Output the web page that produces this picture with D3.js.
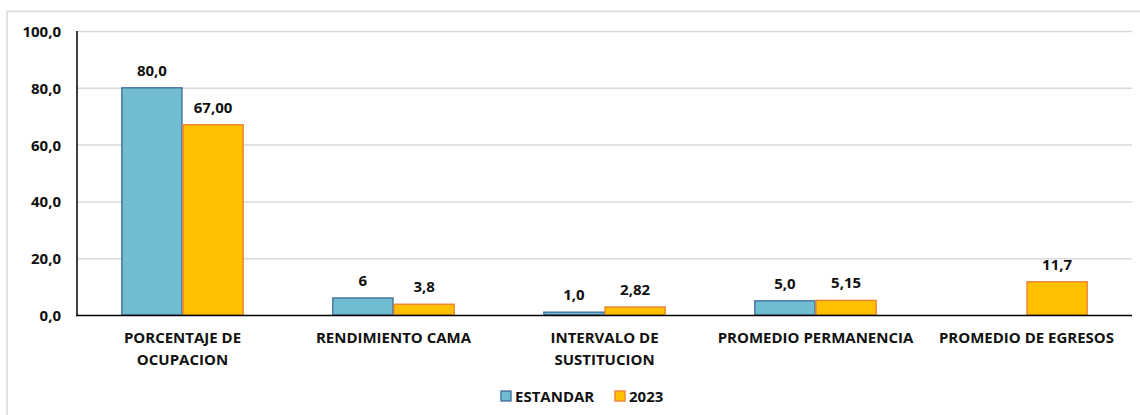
<!DOCTYPE html>
<html>
<head>
<meta charset="utf-8">
<script src="https://cdn.jsdelivr.net/npm/d3@7"></script>
<style>
  body { margin: 0; background: #fff; }
  text { font-family: "Open Sans", "Liberation Sans", sans-serif; font-weight: bold; fill: #111; }
</style>
</head>
<body>
<script>
let categories = [
    ["PORCENTAJE DE", "OCUPACION"],
    ["RENDIMIENTO CAMA"],
    ["INTERVALO DE", "SUSTITUCION"],
    ["PROMEDIO PERMANENCIA"],
    ["PROMEDIO DE EGRESOS"]
];
let seriesNames = ["ESTANDAR", "2023"];
let estandar = [80.0, 6, 1.0, 5.0, null];
let estandarLabels = ["80,0", "6", "1,0", "5,0", ""];
let anio2023 = [67.00, 3.8, 2.82, 5.15, 11.7];
let anio2023Labels = ["67,00", "3,8", "2,82", "5,15", "11,7"];
let yTicks = [0, 20, 40, 60, 80, 100];
let yTickLabels = ["0,0", "20,0", "40,0", "60,0", "80,0", "100,0"];

let fills = ["#70bcd1", "#ffc000"];
let strokes = ["#3d6a9a", "#ed7d31"];

let width = 1140, height = 415;
let svg = d3.select("body").append("svg").attr("width", width).attr("height", height);

// chart frame (only top and left edges visible)
svg.append("line").attr("x1", 7).attr("x2", width).attr("y1", 11.5).attr("y2", 11.5)
    .attr("stroke", "#d9d9d9").attr("stroke-width", 1.5);
svg.append("line").attr("x1", 7).attr("x2", 7).attr("y1", 11).attr("y2", height)
    .attr("stroke", "#d9d9d9").attr("stroke-width", 1.5);

let x = d3.scaleBand().domain(d3.range(categories.length)).range([77, 1132]).paddingInner(0.42).paddingOuter(0.21);
let x1 = d3.scaleBand().domain([0, 1]).range([0, x.bandwidth()]);
let y = d3.scaleLinear().domain([0, 100]).range([315, 31]);

// gridlines
svg.append("g").selectAll("line").data(yTicks.filter(d => d > 0)).enter().append("line")
    .attr("x1", 77).attr("x2", 1132)
    .attr("y1", d => y(d) + 0.5).attr("y2", d => y(d) + 0.5)
    .attr("stroke", "#d9d9d9").attr("stroke-width", 1.5);

// y tick labels
svg.append("g").selectAll("text").data(yTicks).enter().append("text")
    .attr("x", 61).attr("y", d => y(d) + 6)
    .attr("text-anchor", "end").attr("font-size", 15)
    .text((d, i) => yTickLabels[i]);

let series = [
    { values: estandar, labels: estandarLabels },
    { values: anio2023, labels: anio2023Labels }
];

series.forEach((s, si) => {
    let g = svg.append("g");
    let data = s.values.map((v, i) => ({ v: v, i: i, label: s.labels[i] })).filter(d => d.v != null);
    g.selectAll("rect").data(data).enter().append("rect")
        .attr("x", d => x(d.i) + x1(si) + 0.5)
        .attr("y", d => y(d.v))
        .attr("width", x1.bandwidth() - 1)
        .attr("height", d => y(0) - y(d.v))
        .attr("fill", fills[si])
        .attr("stroke", strokes[si]).attr("stroke-width", 1.3);
    g.selectAll("text").data(data).enter().append("text")
        .attr("x", d => x(d.i) + x1(si) + x1.bandwidth() / 2)
        .attr("y", d => y(d.v) - 12)
        .attr("text-anchor", "middle").attr("font-size", 15)
        .text(d => d.label);
});

// axes lines
svg.append("line").attr("x1", 77).attr("x2", 77).attr("y1", 31).attr("y2", 316)
    .attr("stroke", "#000").attr("stroke-width", 1.5);
svg.append("line").attr("x1", 76).attr("x2", 1132).attr("y1", 315.5).attr("y2", 315.5)
    .attr("stroke", "#000").attr("stroke-width", 1.5);

// category labels
let cat = svg.append("g").selectAll("text").data(categories).enter().append("text")
    .attr("x", (d, i) => x(i) + x.bandwidth() / 2)
    .attr("y", 343)
    .attr("text-anchor", "middle").attr("font-size", 15);
cat.selectAll("tspan").data(d => d).enter().append("tspan")
    .attr("x", function () { return d3.select(this.parentNode).attr("x"); })
    .attr("dy", (d, i) => i === 0 ? 0 : 22)
    .text(d => d);

// legend
let legendX = [501, 615];
let legend = svg.append("g").selectAll("g").data(seriesNames).enter().append("g")
    .attr("transform", (d, i) => `translate(${legendX[i]},391)`);
legend.append("rect").attr("width", 10).attr("height", 10)
    .attr("fill", (d, i) => fills[i]).attr("stroke", (d, i) => strokes[i]).attr("stroke-width", 1.3);
legend.append("text").attr("x", 14).attr("y", 10.5).attr("font-size", 15).text(d => d);
</script>
</body>
</html>
